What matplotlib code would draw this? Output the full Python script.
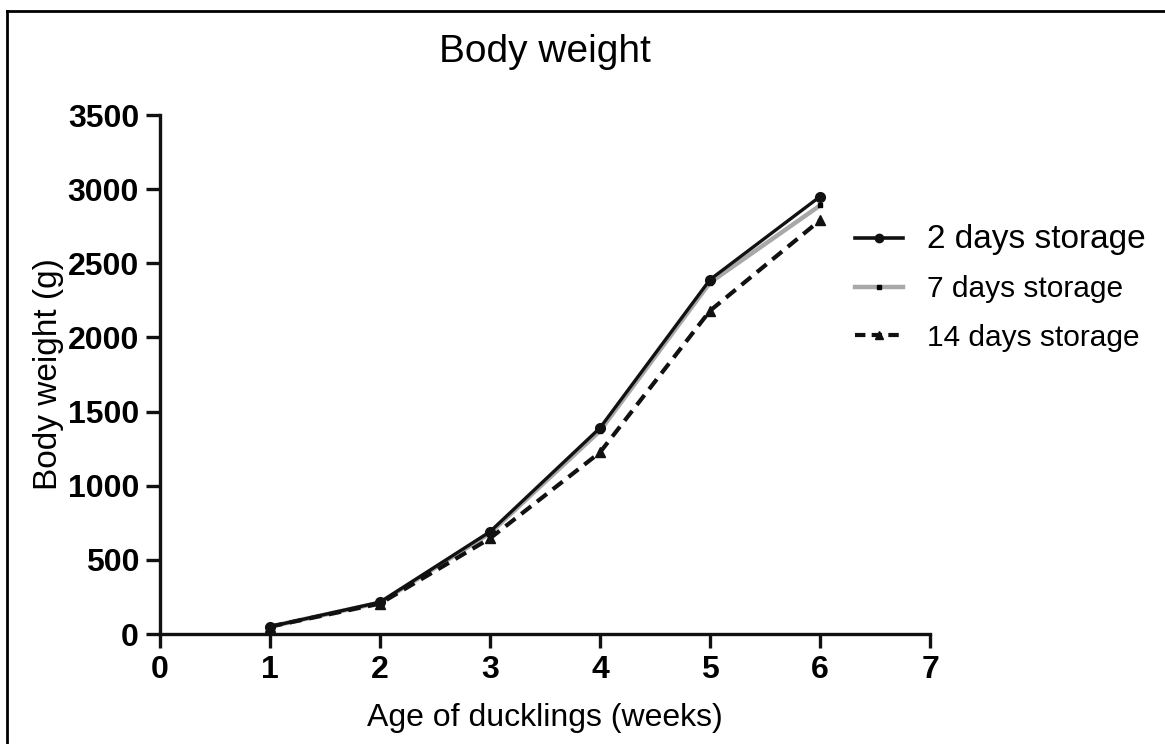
"""Body weight of ducklings by egg storage time: line chart recreation."""
import matplotlib
matplotlib.use("Agg")
import matplotlib.pyplot as plt
from matplotlib.lines import Line2D

plt.rcParams["font.family"] = ["Liberation Sans", "DejaVu Sans"]

weeks = [1, 2, 3, 4, 5, 6]
storage_2d = [50, 215, 690, 1390, 2390, 2950]
storage_7d = [50, 212, 680, 1370, 2370, 2890]
storage_14d = [50, 205, 645, 1225, 2180, 2790]
labels = ["2 days storage", "7 days storage", "14 days storage"]
xticks = [0, 1, 2, 3, 4, 5, 6, 7]
yticks = [0, 500, 1000, 1500, 2000, 2500, 3000, 3500]

fig = plt.figure(figsize=(11.65, 7.44), dpi=100)
ax = fig.add_axes([0.1373, 0.1478, 0.661, 0.6976])

ax.plot(weeks, storage_7d, color="#a8a8a8", lw=3.2, marker="s", ms=3.5,
        mfc="black", mec="black", zorder=2)
ax.plot(weeks, storage_2d, color="#111111", lw=2.4, marker="o", ms=7,
        mfc="#111111", mec="#111111", zorder=3)
ax.plot(weeks, storage_14d, color="#111111", lw=3.0, ls=(0, (3, 1.8)),
        marker="^", ms=7, mfc="#111111", mec="#111111", zorder=3)

ax.set_xlim(0, 7)
ax.set_ylim(0, 3500)
ax.set_xticks(xticks)
ax.set_yticks(yticks)
ax.tick_params(width=2.4, length=10, labelsize=23, color="#111111", pad=5)
for lab in ax.get_xticklabels() + ax.get_yticklabels():
    lab.set_fontweight("bold")
for side in ["top", "right"]:
    ax.spines[side].set_visible(False)
for side in ["left", "bottom"]:
    ax.spines[side].set_linewidth(2.4)
    ax.spines[side].set_color("#111111")

ax.set_title("Body weight", fontsize=28, pad=38)
ax.set_xlabel("Age of ducklings (weeks)", fontsize=23, labelpad=13)
ax.set_ylabel("Body weight (g)", fontsize=24, labelpad=3)

handles = [
    Line2D([], [], color="#111111", lw=2.6, marker="o", ms=6),
    Line2D([], [], color="#a8a8a8", lw=3.2, marker="s", ms=3, mfc="black", mec="black"),
    Line2D([], [], color="#111111", lw=3.0, ls=(0, (2.5, 1.5)), marker="^", ms=6),
]
leg = fig.legend(handles, labels, loc="upper left", bbox_to_anchor=(0.711, 0.735),
                 frameon=False, fontsize=21.5, handlelength=1.6, handletextpad=0.8,
                 labelspacing=0.68)
leg.get_texts()[0].set_fontsize(24)

# partial frame visible at top and left of the original image
fig.add_artist(Line2D([0.006, 0.006], [0, 0.985], color="black", lw=2, transform=fig.transFigure))
fig.add_artist(Line2D([0.006, 1], [0.985, 0.985], color="black", lw=2, transform=fig.transFigure))

fig.savefig("out.png", dpi=100)
